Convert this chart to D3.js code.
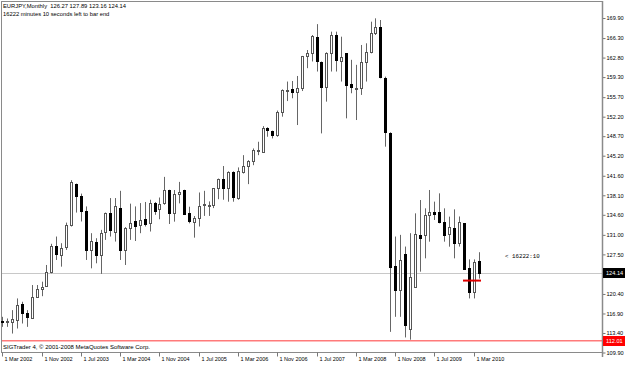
<!DOCTYPE html>
<html>
<head>
<meta charset="utf-8">
<script src="https://cdn.jsdelivr.net/npm/d3@7"></script>
<style>
  html, body { margin: 0; padding: 0; background: #fff; }
  svg { display: block; font-family: "Liberation Sans", Arial, sans-serif; }
</style>
</head>
<body>
<svg id="chart" width="625" height="365"></svg>
<script>
// monthly bars, Mar 2002 .. Apr 2010
const months = [
  "2002-03","2002-04","2002-05","2002-06","2002-07","2002-08","2002-09","2002-10","2002-11","2002-12",
  "2003-01","2003-02","2003-03","2003-04","2003-05","2003-06","2003-07","2003-08","2003-09","2003-10","2003-11","2003-12",
  "2004-01","2004-02","2004-03","2004-04","2004-05","2004-06","2004-07","2004-08","2004-09","2004-10","2004-11","2004-12",
  "2005-01","2005-02","2005-03","2005-04","2005-05","2005-06","2005-07","2005-08","2005-09","2005-10","2005-11","2005-12",
  "2006-01","2006-02","2006-03","2006-04","2006-05","2006-06","2006-07","2006-08","2006-09","2006-10","2006-11","2006-12",
  "2007-01","2007-02","2007-03","2007-04","2007-05","2007-06","2007-07","2007-08","2007-09","2007-10","2007-11","2007-12",
  "2008-01","2008-02","2008-03","2008-04","2008-05","2008-06","2008-07","2008-08","2008-09","2008-10","2008-11","2008-12",
  "2009-01","2009-02","2009-03","2009-04","2009-05","2009-06","2009-07","2009-08","2009-09","2009-10","2009-11","2009-12",
  "2010-01","2010-02","2010-03","2010-04"
];

const opens = [
  115.6,115.5,115.4,115.7,118.6,116.9,116.1,119.9,121.3,121.8,
  124.4,129.0,127.3,128.8,132.8,140.1,137.9,135.3,128.3,129.8,127.4,131.6,
  134.9,131.6,135.9,128.2,132.3,133.4,132.8,133.9,133.1,136.8,135.6,136.65,
  139.05,134.98,138.3,139.05,134.86,133.37,134.08,136.4,136.3,136.4,139.35,140.96,
  139.47,142.34,137.7,142.3,143.35,144.25,146.2,145.9,150.2,149.6,149.0,153.1,
  156.9,157.2,156.7,157.3,163.0,163.7,166.55,162.07,157.6,163.56,166.85,162.25,
  163.56,158.06,157.3,157.3,162.07,163.86,167.15,168.2,159.08,149.33,125.4,121.2,
  127.6,114.2,121.71,130.98,130.98,134.56,135.04,135.04,133.37,131.1,132.17,129.48,
  133.07,124.99,120.81,126.27
];
const highs = [
  116.3,116.0,117.5,119.6,119.0,117.5,122.0,122.0,122.6,125.6,
  129.4,130.7,129.5,133.2,140.8,140.2,138.4,136.1,131.3,130.4,131.9,135.0,
  137.6,137.6,138.9,132.4,136.6,136.1,136.7,136.9,137.3,136.9,137.7,141.4,
  139.1,139.05,140.5,139.1,136.05,134.38,138.6,138.9,137.0,139.4,141.1,143.35,
  142.4,142.4,143.1,145.3,144.4,146.5,147.7,150.5,150.3,149.7,153.3,157.1,
  158.5,158.6,159.5,163.1,164.16,166.85,168.8,162.1,163.75,167.45,167.45,166.55,
  163.6,162.4,161.5,165.06,165.36,169.24,169.84,169.54,159.38,149.4,130.7,131.0,
  128.9,131.3,134.86,137.25,135.76,139.05,136.96,138.45,135.76,134.27,135.58,134.3,
  133.1,126.6,126.6,127.89
];
const lows = [
  114.5,114.5,113.3,114.2,115.1,114.5,116.0,119.7,120.0,121.7,
  124.1,126.5,125.3,128.3,132.5,135.0,133.4,126.5,125.0,125.9,124.0,130.1,
  130.7,129.8,126.5,125.6,130.1,129.9,131.3,132.5,131.6,134.6,133.8,136.4,
  132.95,133.37,136.65,134.56,133.07,130.5,132.5,134.4,134.4,135.8,137.4,137.3,
  136.95,136.95,137.3,142.0,140.1,143.5,145.3,145.9,148.6,148.3,148.6,152.2,
  155.0,155.5,150.7,156.8,160.9,162.1,160.3,149.2,154.9,160.3,160.3,158.5,
  151.9,156.4,151.6,156.1,158.5,163.56,166.85,159.08,146.82,113.6,116.3,116.3,
  112.6,112.2,121.5,124.4,126.79,129.78,133.67,133.07,129.78,128.88,126.79,128.9,
  124.7,119.6,119.6,123.16
];
const closes = [
  115.5,115.6,115.9,118.4,116.9,116.3,119.9,121.3,121.7,124.4,
  129.0,127.5,128.7,132.8,140.4,137.9,135.3,128.3,129.9,127.4,131.4,134.9,
  131.9,136.2,128.2,132.2,133.2,132.6,133.7,133.0,136.8,135.2,136.6,139.05,
  134.98,138.27,138.75,134.68,133.49,134.08,136.2,136.5,136.4,139.35,140.96,139.47,
  142.34,137.85,142.5,143.35,144.25,146.2,146.3,150.2,149.8,149.0,153.1,156.99,
  157.0,156.6,157.3,163.0,163.56,166.6,162.1,157.58,163.7,166.85,162.37,162.96,
  157.88,157.58,157.35,162.07,163.86,167.15,168.23,159.38,149.51,125.3,121.1,126.5,
  114.8,123.5,131.1,130.38,134.56,135.04,134.68,133.37,130.98,132.47,129.48,133.37,
  124.82,120.81,126.19,124.14
];

const priceTicks = [169.90,166.30,162.80,159.30,155.70,152.20,148.70,145.20,141.60,138.10,134.60,131.00,127.50,120.40,116.90,113.40,109.90];
const dateTickMonths = ["2002-03","2002-11","2003-07","2004-03","2004-11","2005-07","2006-03","2006-11","2007-07","2008-03","2008-11","2009-07","2010-03"];
const dateTickLabels = ["1 Mar 2002","1 Nov 2002","1 Jul 2003","1 Mar 2004","1 Nov 2004","1 Jul 2005","1 Mar 2006","1 Nov 2006","1 Jul 2007","1 Mar 2008","1 Nov 2008","1 Jul 2009","1 Mar 2010"];

const symbolTitle = "EURJPY,Monthly  126.27 127.89 123.16 124.14";
const timerText = "16222 minutes 10 seconds left to bar end";
const timerLabel = "< 16222:10";
const copyright = "SIGTrader 4, \u00a9 2001-2008 MetaQuotes Software Corp.";
const bidPrice = 124.14;
const lineLevel = 112.01;
const segLevel = 122.8;
const segMonths = ["2010-01", "2010-04"];

const data = months.map((m, i) => ({ m, o: opens[i], h: highs[i], l: lows[i], c: closes[i] }));

const plotLeft = 1, plotRight = 602, plotTop = 1, plotBottom = 352;

const svg = d3.select("#chart");

const x = d3.scaleBand().domain(months).range([-0.155, 481.03]).padding(0);
const cx = m => Math.round(x(m) + x.bandwidth() / 2);
const y = d3.scaleLinear().domain([109.9, 169.9]).range([352.5, 18]);

// frame
svg.append("rect")
   .attr("x", plotLeft + 0.5).attr("y", plotTop + 0.5)
   .attr("width", plotRight - plotLeft).attr("height", plotBottom - plotTop)
   .attr("fill", "#fff").attr("stroke", "#8a8a8a");

// horizontal lines
svg.append("line")
   .attr("x1", plotLeft + 1).attr("x2", plotRight)
   .attr("y1", Math.round(y(bidPrice)) + 0.5).attr("y2", Math.round(y(bidPrice)) + 0.5)
   .attr("stroke", "#c8c8c8");
svg.append("line")
   .attr("x1", plotLeft + 1).attr("x2", plotRight)
   .attr("y1", y(lineLevel)).attr("y2", y(lineLevel))
   .attr("stroke", "#ff7a7a").attr("stroke-width", 1.6);

// candles
const g = svg.append("g");
g.selectAll(".wick")
 .data(data)
 .enter().append("line")
 .attr("class", "wick")
 .attr("x1", d => cx(d.m) + 0.5).attr("x2", d => cx(d.m) + 0.5)
 .attr("y1", d => y(d.h)).attr("y2", d => y(d.l))
 .attr("stroke", "#666");

g.selectAll(".body")
 .data(data)
 .enter().append("rect")
 .attr("class", "body")
 .attr("x", d => cx(d.m) - 0.5)
 .attr("y", d => Math.round(y(Math.max(d.o, d.c))) + 0.5)
 .attr("width", 2)
 .attr("height", d => Math.max(1, Math.round(y(Math.min(d.o, d.c))) - Math.round(y(Math.max(d.o, d.c)))))
 .attr("fill", d => d.c >= d.o ? "#fff" : "#000")
 .attr("stroke", d => d.c >= d.o ? "#555" : "#000");

// red segment
svg.append("line")
   .attr("x1", cx(segMonths[0]) - 1).attr("x2", cx(segMonths[1]) + 2)
   .attr("y1", y(segLevel)).attr("y2", y(segLevel))
   .attr("stroke", "#e00000").attr("stroke-width", 2);

// price axis
const yAxis = d3.axisRight(y).tickValues(priceTicks).tickFormat(d3.format(".2f")).tickSize(3).tickPadding(1);
const ya = svg.append("g").attr("transform", `translate(${plotRight + 0.5},0)`).call(yAxis);
ya.select(".domain").remove();
ya.selectAll("line").attr("stroke", "#777");
ya.selectAll("text").attr("font-size", "5.6px").attr("fill", "#000")
  .attr("font-family", "'Liberation Sans', Arial, sans-serif");
svg.append("line").attr("x1", plotRight + 0.5).attr("x2", plotRight + 0.5).attr("y1", plotTop).attr("y2", 357)
   .attr("stroke", "#8a8a8a").attr("stroke-width", 1.5);

// price boxes
function priceBox(p, bg) {
  const yy = Math.round(y(p));
  svg.append("rect").attr("x", plotRight + 1).attr("y", yy - 5).attr("width", 22).attr("height", 10).attr("fill", bg);
  svg.append("text").attr("x", plotRight + 4).attr("y", yy + 2).attr("font-size", "5.6px").attr("fill", "#fff")
     .text(p.toFixed(2));
}
priceBox(bidPrice, "#000");
priceBox(lineLevel, "#f00");

// time axis
const xAxis = d3.axisBottom(x).tickValues(dateTickMonths)
  .tickFormat(m => dateTickLabels[dateTickMonths.indexOf(m)])
  .tickSize(4).tickPadding(1);
const xa = svg.append("g").attr("transform", `translate(0,${plotBottom + 0.5})`).call(xAxis);
xa.select(".domain").remove();
xa.selectAll(".tick").attr("transform", d => `translate(${cx(d) + 0.5},0)`);
xa.selectAll("line").attr("stroke", "#777");
xa.selectAll("text").attr("text-anchor", "start").attr("x", 2)
  .attr("font-size", "5.5px").attr("fill", "#000")
  .attr("font-family", "'Liberation Sans', Arial, sans-serif");

// texts
svg.append("text").attr("x", 3).attr("y", 8).attr("font-size", "5.8px").style("white-space", "pre").text(symbolTitle);
svg.append("text").attr("x", 3).attr("y", 16).attr("font-size", "5.8px").text(timerText);
svg.append("text").attr("x", 3).attr("y", 349).attr("font-size", "6px").text(copyright);
svg.append("text").attr("x", 505).attr("y", 258).attr("font-size", "5.8px")
   .attr("font-family", "'Liberation Mono', monospace").style("white-space", "pre").text(timerLabel);
</script>
</body>
</html>
